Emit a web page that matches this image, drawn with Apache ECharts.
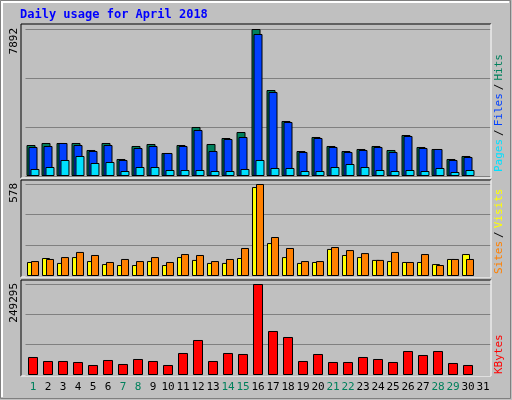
<!DOCTYPE html>
<html><head><meta charset="utf-8">
<script src="https://cdn.jsdelivr.net/npm/echarts@6/dist/echarts.min.js"></script>
<style>html,body{margin:0;padding:0;background:#c0c0c0}#c{width:512px;height:400px}</style>
</head><body><div id="c"></div>
<script>
const days = Array.from({length:31},(_,i)=>String(i+1));
const weekend = [1,7,8,14,15,21,22,28,29];
const hits  = [1664,1772,1772,1772,1396,1772,913,1611,1718,1235,1664,2631,1718,2040,2362,7892,4617,2953,1342,2094,1611,1342,1450,1611,1396,2201,1557,1450,913,1074,null];
const files = [1557,1611,1772,1664,1342,1664,859,1503,1611,1235,1611,2470,1342,1986,2094,7624,4510,2899,1289,2040,1557,1289,1396,1557,1289,2148,1503,1450,859,1020,null];
const pages = [376,483,859,1074,698,752,268,483,483,322,322,322,268,268,376,859,430,430,268,268,483,644,483,322,268,322,268,430,215,322,null];
const sites = [88,113,82,119,94,75,69,69,94,69,119,101,82,82,113,559,207,119,82,88,170,132,119,101,94,88,88,75,107,138,null];
const visits= [94,107,119,151,132,88,107,94,119,88,138,132,94,107,176,578,245,176,94,94,182,163,144,101,151,88,138,69,107,107,null];
const kbytes= [49313,38354,38354,35615,27396,41094,30136,43834,38354,27396,60271,95886,38354,60271,57532,249295,120542,104105,38354,57532,35615,35615,49313,43834,35615,65750,54792,65750,32875,27396,null];
const maxHits = 7892, maxVisits = 578, maxKB = 249295;

const chart = echarts.init(document.getElementById('c'));
const grids = [
  {left:25.5,width:465,top:29,height:147},
  {left:25.5,width:465,top:184,height:92},
  {left:25.5,width:465,top:284,height:91}
];
function xa(i,show){return {type:'category',gridIndex:i,data:days,axisLine:{show:false},axisTick:{show:false},
  axisLabel:{show:show,interval:0,margin:7,fontFamily:'DejaVu Sans Mono',fontSize:11,
    color:(v)=>weekend.includes(+v)?'#00805c':'#000'}};}
function ya(i,max){return {type:'value',gridIndex:i,min:0,max:max,interval:max/3,axisLabel:{show:false},
  axisLine:{show:false},axisTick:{show:false},splitLine:{lineStyle:{color:'#808080',width:1}}};}
const bs = {borderColor:'#000',borderWidth:1};
const mono='DejaVu Sans Mono';
function panel(y,h){return [
  {type:'rect',shape:{x:21,y:y,width:470,height:h},style:{fill:'#c0c0c0'},z:-10},
  {type:'polyline',shape:{points:[[21,y+h],[21,y],[491,y]]},style:{stroke:'#000',lineWidth:1},z:10},
  {type:'polyline',shape:{points:[[491,y],[491,y+h],[21,y+h]]},style:{stroke:'#fff',lineWidth:1},z:10}
];}
chart.setOption({
  animation:false,
  backgroundColor:'#c0c0c0',
  grid:grids,
  xAxis:[xa(0,false),xa(1,false),xa(2,true)],
  yAxis:[ya(0,maxHits),ya(1,maxVisits),ya(2,maxKB)],
  series:[
    {type:'bar',xAxisIndex:0,yAxisIndex:0,data:hits,barWidth:9,barGap:'-78%',itemStyle:Object.assign({color:'#00805c'},bs),z:2},
    {type:'bar',xAxisIndex:0,yAxisIndex:0,data:files,barWidth:9,barGap:'-78%',itemStyle:Object.assign({color:'#0040ff'},bs),z:3},
    {type:'bar',xAxisIndex:0,yAxisIndex:0,data:pages,barWidth:9,barGap:'-78%',itemStyle:Object.assign({color:'#00e0ff'},bs),z:4},
    {type:'bar',xAxisIndex:1,yAxisIndex:1,data:sites,barWidth:8,barGap:'-50%',itemStyle:Object.assign({color:'#ffff00'},bs),z:2},
    {type:'bar',xAxisIndex:1,yAxisIndex:1,data:visits,barWidth:8,barGap:'-50%',itemStyle:Object.assign({color:'#ff8000'},bs),z:3},
    {type:'bar',xAxisIndex:2,yAxisIndex:2,data:kbytes,barWidth:10,itemStyle:Object.assign({color:'#ff0000'},bs)}
  ],
  graphic:[
    {type:'rect',shape:{x:0.5,y:0.5,width:510,height:398},style:{fill:'none',stroke:'#808080',lineWidth:1},z:-20},
    {type:'polyline',shape:{points:[[2,397],[2,2],[509,2]]},style:{stroke:'#fff',lineWidth:2},z:-19},
    ...panel(24,154),...panel(180,97),...panel(280,96),
    {type:'text',x:20,y:15,style:{text:'Daily usage for April 2018',fill:'#0000ff',font:'bold 12px '+mono,textVerticalAlign:'middle'}},
    {type:'text',x:14,y:28,rotation:Math.PI/2,style:{text:'7892',fill:'#000',font:'11px '+mono,textAlign:'right',textVerticalAlign:'middle'}},
    {type:'text',x:14,y:183,rotation:Math.PI/2,style:{text:'578',fill:'#000',font:'11px '+mono,textAlign:'right',textVerticalAlign:'middle'}},
    {type:'text',x:14,y:283,rotation:Math.PI/2,style:{text:'249295',fill:'#000',font:'11px '+mono,textAlign:'right',textVerticalAlign:'middle'}},
    {type:'text',x:499,y:172,rotation:Math.PI/2,style:{text:'{p|Pages}{s|/}{f|Files}{s|/}{h|Hits}',font:'11px '+mono,textAlign:'left',textVerticalAlign:'middle',
      rich:{p:{fill:'#00e0ff',font:'11px '+mono},f:{fill:'#0040ff',font:'11px '+mono},h:{fill:'#00805c',font:'11px '+mono},s:{fill:'#000',font:'11px '+mono,padding:[0,3]}}}},
    {type:'text',x:499,y:274,rotation:Math.PI/2,style:{text:'{a|Sites}{s|/}{b|Visits}',font:'11px '+mono,textAlign:'left',textVerticalAlign:'middle',
      rich:{a:{fill:'#ff8000',font:'11px '+mono},b:{fill:'#ffff00',font:'11px '+mono},s:{fill:'#000',font:'11px '+mono,padding:[0,3]}}}},
    {type:'text',x:499,y:374,rotation:Math.PI/2,style:{text:'KBytes',fill:'#ff0000',font:'11px '+mono,textAlign:'left',textVerticalAlign:'middle'}}
  ]
});
</script></body></html>
